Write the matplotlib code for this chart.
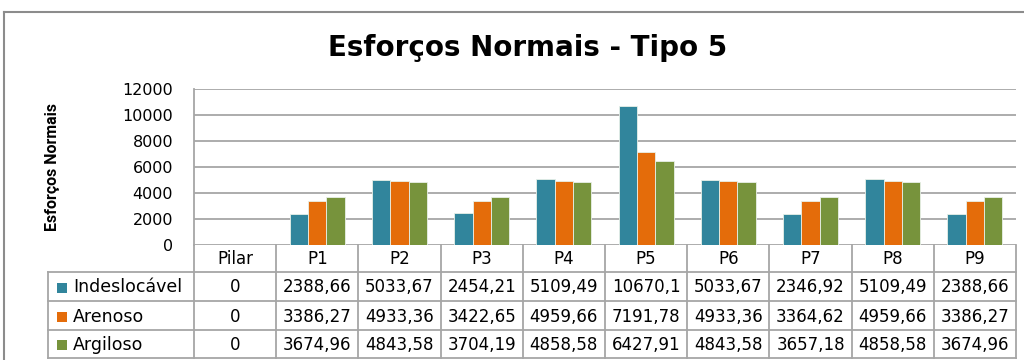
import matplotlib
matplotlib.use("Agg")
import matplotlib.pyplot as plt
from matplotlib.lines import Line2D
from matplotlib.patches import Rectangle
from matplotlib.transforms import blended_transform_factory
from matplotlib import font_manager
import numpy as np

categories = ["Pilar", "P1", "P2", "P3", "P4", "P5", "P6", "P7", "P8", "P9"]
series_names = ["Indeslocável", "Arenoso", "Argiloso"]
indeslocavel = [0, 2388.66, 5033.67, 2454.21, 5109.49, 10670.1, 5033.67, 2346.92, 5109.49, 2388.66]
arenoso = [0, 3386.27, 4933.36, 3422.65, 4959.66, 7191.78, 4933.36, 3364.62, 4959.66, 3386.27]
argiloso = [0, 3674.96, 4843.58, 3704.19, 4858.58, 6427.91, 4843.58, 3657.18, 4858.58, 3674.96]
yticks = [0, 2000, 4000, 6000, 8000, 10000, 12000]

series = [indeslocavel, arenoso, argiloso]
colors = ["#31859C", "#E46C0A", "#77933C"]

names = {f.name for f in font_manager.fontManager.ttflist}
if "Liberation Sans Narrow" in names:
    ylab_font, ylab_size = "Liberation Sans Narrow", 13
else:
    ylab_font, ylab_size = "Roboto", 11.5

W, H = 1024, 360
fig = plt.figure(figsize=(W / 100, H / 100), dpi=100)
fig.patch.set_facecolor("white")

def fx(px):
    return px / W

def fy(py):
    return 1 - py / H

ax_l, ax_r, ax_t, ax_b = 194, 1016, 89, 245
ax = fig.add_axes([fx(ax_l), fy(ax_b), fx(ax_r) - fx(ax_l), fy(ax_t) - fy(ax_b)])

x = np.arange(len(categories))
bw = 0.223
for i, (vals, c) in enumerate(zip(series, colors)):
    ax.bar(x + (i - 1) * bw, vals, width=bw, color=c, edgecolor="#E8F0E8",
           linewidth=0.6, zorder=3)

ax.set_xlim(-0.5, len(categories) - 0.5)
ax.set_ylim(0, 12000)
ax.set_yticks(yticks)
ax.set_yticklabels([str(t) for t in yticks], fontsize=11.5, family="DejaVu Sans")
ax.tick_params(axis="y", length=0, pad=15)
ax.set_xticks([])
ax.yaxis.grid(True, color="#A6A6A6", linewidth=1.3, zorder=0)
for s in ["top", "right", "bottom"]:
    ax.spines[s].set_visible(False)
ax.spines["left"].set_color("#A6A6A6")
ax.spines["left"].set_linewidth(1.3)

# title and y-label
fig.text(0.515, fy(48), "Esforços Normais - Tipo 5", ha="center", va="center",
         fontsize=20, fontweight="bold", family="DejaVu Sans")
fig.text(fx(52), fy(167), "Esforços Normais", ha="center", va="center",
         rotation=90, fontsize=ylab_size, fontweight="bold", family=ylab_font)

# outer border
fig.add_artist(Line2D([fx(4), fx(4)], [fy(12), 0], transform=fig.transFigure,
                      color="#8C8C8C", linewidth=1.5))
fig.add_artist(Line2D([fx(4), 1], [fy(12), fy(12)], transform=fig.transFigure,
                      color="#8C8C8C", linewidth=1.5))

# data table
tcol = "#A6A6A6"
row_px = [245, 272, 301, 330, 358]
label_left = 48
trans = blended_transform_factory(ax.transData, fig.transFigure)

for j, py in enumerate(row_px[1:]):
    fig.add_artist(Line2D([fx(label_left), fx(ax_r)], [fy(py), fy(py)],
                          transform=fig.transFigure, color=tcol, linewidth=1.3))
for k in range(len(categories) + 1):
    xb = -0.5 + k
    fig.add_artist(Line2D([xb, xb], [fy(row_px[0]), fy(row_px[-1])], transform=trans,
                          color=tcol, linewidth=1.3))
fig.add_artist(Line2D([fx(label_left), fx(label_left)], [fy(row_px[1]), fy(row_px[-1])],
                      transform=fig.transFigure, color=tcol, linewidth=1.3))

for i, cat in enumerate(categories):
    fig.text(i, fy((row_px[0] + row_px[1]) / 2 + 1), cat, transform=trans,
             ha="center", va="center", fontsize=12, family="DejaVu Sans")

def fmt(v):
    return ("%g" % v).replace(".", ",")

for r, (name, vals, c) in enumerate(zip(series_names, series, colors)):
    yc = (row_px[r + 1] + row_px[r + 2]) / 2 + 1
    fig.add_artist(Rectangle((fx(57), fy(yc + 5)), fx(10), 10 / H,
                             transform=fig.transFigure, facecolor=c, edgecolor="none"))
    fig.text(fx(73), fy(yc), name, ha="left", va="center", fontsize=12.5,
             family="DejaVu Sans")
    for i, v in enumerate(vals):
        fig.text(i, fy(yc), fmt(v), transform=trans, ha="center", va="center",
                 fontsize=12, family="DejaVu Sans")

fig.savefig("out.png", dpi=100, facecolor="white")
